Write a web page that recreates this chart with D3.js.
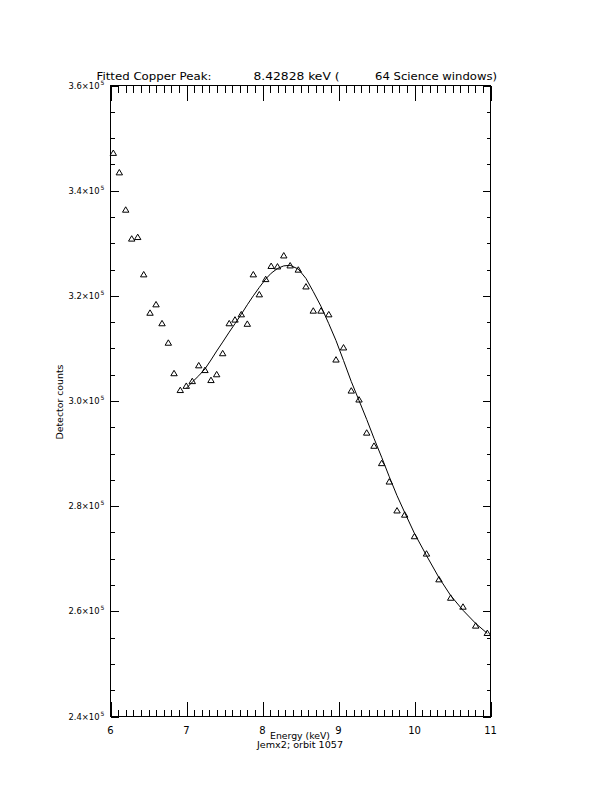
<!DOCTYPE html>
<html>
<head>
<meta charset="utf-8">
<script src="https://cdn.jsdelivr.net/npm/d3@7"></script>
<style>
  html, body { margin: 0; padding: 0; background: #fff; }
  svg { display: block; }
  text { font-family: "DejaVu Sans", "Liberation Sans", sans-serif; fill: #000; }
</style>
</head>
<body>
<svg id="chart" width="612" height="792"></svg>
<script>
// ---------- data ----------
const energy = [6.037, 6.116, 6.200, 6.279, 6.358, 6.437, 6.520, 6.599, 6.678, 6.761,
  6.836, 6.918, 6.997, 7.076, 7.161, 7.243, 7.322, 7.397, 7.476, 7.562,
  7.638, 7.721, 7.800, 7.879, 7.958, 8.042, 8.114, 8.197, 8.280, 8.364,
  8.471, 8.572, 8.668, 8.770, 8.872, 8.967, 9.066, 9.168, 9.270, 9.371,
  9.467, 9.568, 9.668, 9.770, 9.871, 10.000, 10.158, 10.322, 10.476, 10.638,
  10.805, 10.958];
const counts = [347200, 343500, 336400, 330900, 331200, 324100, 316800, 318400, 314800, 311100,
  305300, 302100, 302900, 303800, 306800, 305900, 304000, 305100, 309100, 314800,
  315500, 316500, 314700, 324100, 320300, 323200, 325700, 325600, 327700, 325800,
  325000, 321800, 317200, 317200, 316500, 307900, 310200, 302000, 300300, 294000,
  291500, 288200, 284700, 279200, 278400, 274300, 271000, 266100, 262600, 260900,
  257300, 255900];
const fitCounts = [null, null, null, null, null, null, null, null, null, null,
  null, null, 302400, 303600, 304800, 306100, 307800, 309500, 311200, 313100,
  314700, 316500, 318300, 320000, 321600, 323200, 324300, 325200, 325700, 325800,
  325100, 323300, 320800, 318000, 314700, 311500, 307700, 303700, 300100, 296500,
  292900, 289300, 285600, 282000, 278800, 274800, 270600, 266400, 263000, 260200,
  257700, 255800];
const xMajorTicks = [6, 7, 8, 9, 10, 11];
const xTickLabels = ["6", "7", "8", "9", "10", "11"];
const yMajorTicks = [240000, 260000, 280000, 300000, 320000, 340000, 360000];
const yTickMantissa = ["2.4", "2.6", "2.8", "3.0", "3.2", "3.4", "3.6"];
const titleParts = ["Fitted Copper Peak:", "8.42828 keV (", "64 Science windows)"];
const xTitle = "Energy (keV)";
const subTitle = "Jemx2; orbit 1057";
const yTitle = "Detector counts";

// ---------- layout ----------
const L = 110.5, R = 490.5, T = 85.5, B = 716.5;
const svg = d3.select("#chart");
const x = d3.scaleLinear().domain([6, 11]).range([L, R]);
const y = d3.scaleLinear().domain([240000, 360000]).range([B, T]);

const xMinor = d3.range(6, 11.0001, 0.1).map(v => +v.toFixed(2));
const yMinor = d3.range(240000, 360001, 5000);

const XMAJ = 15, XMIN = 7, YMAJ = 8, YMIN = 4;

// frame
svg.append("rect").attr("x", L).attr("y", T).attr("width", R - L).attr("height", B - T)
  .attr("fill", "none").attr("stroke", "#000").attr("stroke-width", 1);

function isMajorX(v) { return Math.abs(v - Math.round(v)) < 1e-6; }
function isMajorY(v) { return v % 20000 === 0; }

const gb = svg.append("g").attr("transform", `translate(0,${B})`);
gb.call(d3.axisTop(x).tickValues(xMinor).tickSize(XMIN).tickFormat(""));
gb.call(g => g.selectAll(".tick line").attr("y2", d => isMajorX(d) ? -XMAJ : -XMIN));
const gt = svg.append("g").attr("transform", `translate(0,${T})`);
gt.call(d3.axisBottom(x).tickValues(xMinor).tickSize(XMIN).tickFormat(""));
gt.call(g => g.selectAll(".tick line").attr("y2", d => isMajorX(d) ? XMAJ : XMIN));
const gl = svg.append("g").attr("transform", `translate(${L},0)`);
gl.call(d3.axisRight(y).tickValues(yMinor).tickSize(YMIN).tickFormat(""));
gl.call(g => g.selectAll(".tick line").attr("x2", d => isMajorY(d) ? YMAJ : YMIN));
const gr = svg.append("g").attr("transform", `translate(${R},0)`);
gr.call(d3.axisLeft(y).tickValues(yMinor).tickSize(YMIN).tickFormat(""));
gr.call(g => g.selectAll(".tick line").attr("x2", d => isMajorY(d) ? -YMAJ : -YMIN));
svg.selectAll(".domain").remove();
svg.selectAll(".tick line").attr("stroke", "#000").attr("shape-rendering", "crispEdges");

// x tick labels
svg.append("g").selectAll("text").data(xMajorTicks).join("text")
  .attr("x", d => x(d)).attr("y", B + 17)
  .attr("text-anchor", "middle").attr("font-size", 10)
  .text((d, i) => xTickLabels[i]);

// y tick labels
const yl = svg.append("g").selectAll("g").data(yMajorTicks).join("g")
  .attr("transform", d => `translate(${L - 3},${y(d) + 3})`);
yl.append("text").attr("x", -5).attr("y", -4).attr("font-size", 6).attr("text-anchor", "middle").text("5");
yl.append("text").attr("x", -8).attr("y", 0).attr("font-size", 8.5).attr("text-anchor", "end")
  .attr("textLength", 31).attr("lengthAdjust", "spacingAndGlyphs")
  .text((d, i) => yTickMantissa[i] + "\u00d710");

// titles
const tpos = [[96.5, 115], [253.5, 86], [375, 122]];
svg.append("g").selectAll("text").data(titleParts).join("text")
  .attr("x", (d, i) => tpos[i][0]).attr("y", 79.5)
  .attr("font-size", 10.5)
  .attr("textLength", (d, i) => tpos[i][1]).attr("lengthAdjust", "spacingAndGlyphs")
  .text(d => d);

svg.append("text").attr("x", 300).attr("y", 738.5).attr("text-anchor", "middle")
  .attr("font-size", 8).attr("textLength", 60).attr("lengthAdjust", "spacingAndGlyphs").text(xTitle);
svg.append("text").attr("x", 300).attr("y", 747.5).attr("text-anchor", "middle")
  .attr("font-size", 8).attr("textLength", 86).attr("lengthAdjust", "spacingAndGlyphs").text(subTitle);
svg.append("text").attr("transform", "translate(63,402) rotate(-90)").attr("text-anchor", "middle")
  .attr("font-size", 9).attr("textLength", 75).attr("lengthAdjust", "spacingAndGlyphs").text(yTitle);

// fit line
const fitPts = energy.map((e, i) => [e, fitCounts[i]]).filter(p => p[1] !== null);
svg.append("path").datum(fitPts)
  .attr("d", d3.line().x(p => x(p[0])).y(p => y(p[1])))
  .attr("fill", "none").attr("stroke", "#000").attr("stroke-width", 1);

// data triangles
const tri = "M-3.2,2.6 L0,-2.8 L3.2,2.6 Z";
svg.append("g").selectAll("path").data(energy.map((e, i) => [e, counts[i]])).join("path")
  .attr("transform", p => `translate(${x(p[0])},${y(p[1])})`)
  .attr("d", tri).attr("fill", "none").attr("stroke", "#000").attr("stroke-width", 1);
</script>
</body>
</html>
